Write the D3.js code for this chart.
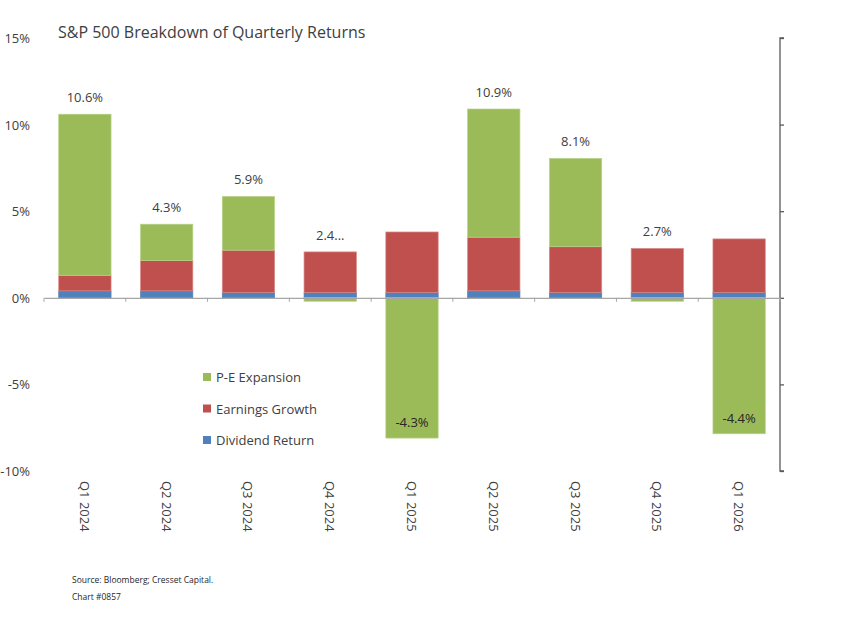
<!DOCTYPE html>
<html><head><meta charset="utf-8">
<script src="https://cdn.jsdelivr.net/npm/d3@7"></script>
<style>body{margin:0;background:#fff}text{font-family:"Open Sans",sans-serif}</style>
</head><body><svg id="c" width="863" height="626"></svg>
<script>
const categories=["Q1 2024","Q2 2024","Q3 2024","Q4 2024","Q1 2025","Q2 2025","Q3 2025","Q4 2025","Q1 2026"];
const dividend=[0.4,0.4,0.3,0.3,0.3,0.4,0.3,0.3,0.3];
const earnings=[0.9,1.75,2.45,2.35,3.5,3.1,2.65,2.55,3.1];
const pe=[9.3,2.1,3.1,-0.2,-8.1,7.4,5.1,-0.2,-7.85];
const totals=["10.6%","4.3%","5.9%","2.4...","-4.3%","10.9%","8.1%","2.7%","-4.4%"];
const yTicks=[15,10,5,0,-5,-10];
const series=[{name:"P-E Expansion",color:"#9BBB59",stroke:"#B8D38A"},{name:"Earnings Growth",color:"#C0504D",stroke:"#D98A88"},{name:"Dividend Return",color:"#4F81BD",stroke:"#4F81BD"}];

const svg=d3.select("#c");
const x=d3.scaleBand().domain(categories).range([44,780]).paddingInner(0.36).paddingOuter(0.18);
const y=d3.scaleLinear().domain([-10,15]).range([471,38]);

// left labels
svg.append("g").selectAll("text").data(yTicks).join("text")
 .attr("x",30).attr("y",d=>y(d)+5).attr("text-anchor","end").attr("font-size",13).attr("fill","#404040")
 .text(d=>d+"%");
// right axis
const ra=svg.append("g").attr("transform","translate(780,0)").call(d3.axisRight(y).tickValues(yTicks).tickSize(4).tickFormat(""));
ra.selectAll("path,line").attr("stroke","#595959").attr("stroke-width",1.3);
ra.select("path").attr("d","M4,38H0V471H4");

categories.forEach((c,i)=>{
  const x0=x(c),w=x.bandwidth();
  const segs=[{v:dividend[i],s:series[2]},{v:earnings[i],s:series[1]}];
  let base=0;
  segs.forEach(g=>{
    svg.append("rect").attr("x",x0).attr("width",w).attr("y",y(base+g.v)).attr("height",y(base)-y(base+g.v)).attr("fill",g.s.color).attr("stroke",g.s.stroke).attr("stroke-width",0.7);
    base+=g.v;
  });
  const p=pe[i];
  if(p>=0){
    svg.append("rect").attr("x",x0).attr("width",w).attr("y",y(base+p)).attr("height",y(base)-y(base+p)).attr("fill",series[0].color).attr("stroke",series[0].stroke).attr("stroke-width",0.7);
    svg.append("text").attr("x",x0+w/2).attr("y",y(base+p)-12).attr("text-anchor","middle").attr("font-size",13).attr("fill","#404040").text(totals[i]);
  } else {
    svg.append("rect").attr("x",x0).attr("width",w).attr("y",y(0)).attr("height",y(p)-y(0)).attr("fill",series[0].color).attr("stroke",series[0].stroke).attr("stroke-width",0.7);
    if(p<-1) svg.append("text").attr("x",x0+w/2).attr("y",y(p)-11).attr("text-anchor","middle").attr("font-size",13).attr("fill","#262626").text(totals[i]);
    else svg.append("text").attr("x",x0+w/2).attr("y",y(base)-12).attr("text-anchor","middle").attr("font-size",13).attr("fill","#404040").text(totals[i]);
  }
});
// x axis line
const xa=svg.append("g").attr("transform",`translate(0,${y(0)})`).call(d3.axisBottom(x).tickSize(0).tickFormat(""));
xa.select("path").attr("stroke","#A6A6A6").attr("stroke-width",1.2);
const bounds=categories.map(c=>x(c)-x.step()*x.paddingInner()/2);
bounds.push(780);
svg.append("g").selectAll("line").data(bounds).join("line").attr("x1",d=>d).attr("x2",d=>d).attr("y1",y(0)).attr("y2",y(0)+4).attr("stroke","#A6A6A6");
// x labels rotated
svg.append("g").selectAll("text").data(categories).join("text")
 .attr("transform",d=>`translate(${x(d)+x.bandwidth()/2-5},481) rotate(90)`)
 .attr("font-size",13).attr("fill","#404040").text(d=>d);
// title
svg.append("text").attr("x",58).attr("y",38).attr("font-size",16).attr("fill","#404040").text("S&P 500 Breakdown of Quarterly Returns");
// legend
series.forEach((s,i)=>{
  const ly=377+i*31.5;
  svg.append("rect").attr("x",203).attr("y",ly-4).attr("width",8).attr("height",8).attr("fill",s.color);
  svg.append("text").attr("x",216).attr("y",ly+5).attr("font-size",13).attr("fill","#404040").text(s.name);
});
svg.append("text").attr("x",72).attr("y",583).attr("font-size",8.5).attr("fill","#262626").text("Source: Bloomberg; Cresset Capital.");
svg.append("text").attr("x",72).attr("y",600).attr("font-size",8.5).attr("fill","#262626").text("Chart #0857");
</script></body></html>
